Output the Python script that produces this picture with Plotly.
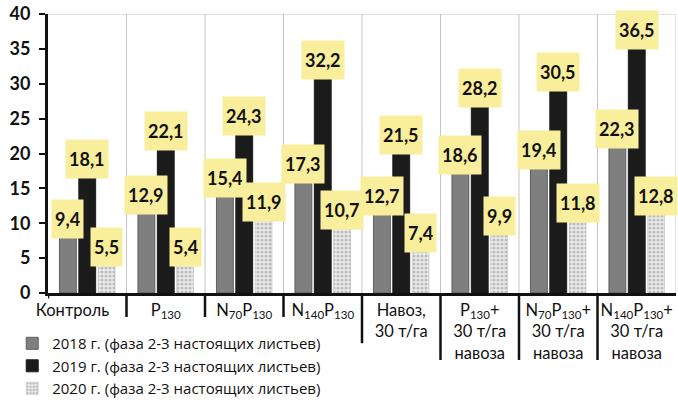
import plotly.graph_objects as go

# Treatments (category axis) and tick texts
categories = ["Контроль", "P130", "N70P130", "N140P130", "Навоз, 30 т/га",
              "P130+ 30 т/га навоза", "N70P130+ 30 т/га навоза", "N140P130+ 30 т/га навоза"]
tick_labels = [
    "Контроль" + "\u00a0" * 7,
    "P<sub>130</sub>",
    "N<sub>70</sub>P<sub>130</sub>",
    "N<sub>140</sub>P<sub>130</sub>",
    "Навоз,<br>30 т/га",
    "P<sub>130</sub>+<br>30 т/га<br>навоза",
    "N<sub>70</sub>P<sub>130</sub>+<br>30 т/га<br>навоза",
    "N<sub>140</sub>P<sub>130</sub>+<br>30 т/га<br>навоза",
]

series_names = [
    "2018 г. (фаза 2-3 настоящих листьев)",
    "2019 г. (фаза 2-3 настоящих листьев)",
    "2020 г. (фаза 2-3 настоящих листьев)",
]
values_2018 = [9.4, 12.9, 15.4, 17.3, 12.7, 18.6, 19.4, 22.3]
values_2019 = [18.1, 22.1, 24.3, 32.2, 21.5, 28.2, 30.5, 36.5]
values_2020 = [5.5, 5.4, 11.9, 10.7, 7.4, 9.9, 11.8, 12.8]
y_ticks = [0, 5, 10, 15, 20, 25, 30, 35, 40]

FONT = "Lato"
BAR_GAP = 0.26
GROUP_GAP = 0.13
x_pos = list(range(len(categories)))

fig = go.Figure()
fig.add_trace(go.Bar(
    x=x_pos, y=values_2018, name=series_names[0],
    marker=dict(color="#7f7f7f", line=dict(color="#5f5f5f", width=1)),
))
fig.add_trace(go.Bar(
    x=x_pos, y=values_2019, name=series_names[1],
    marker=dict(color="#1b1b1b", line=dict(color="#1b1b1b", width=1)),
))
fig.add_trace(go.Bar(
    x=x_pos, y=values_2020, name=series_names[2],
    marker=dict(color="#e6e6e6", line=dict(color="#b5b5b5", width=0.5),
                pattern=dict(shape=".", fgcolor="#8c8c8c", bgcolor="#ececec",
                             size=4, solidity=0.5)),
))

# Value labels on yellow boxes, centred over each bar of the group
slot = (1 - BAR_GAP) / 3
annotations = []
for k, series in enumerate([values_2018, values_2019, values_2020]):
    for i, v in enumerate(series):
        annotations.append(dict(
            x=i + (k - 1) * slot, y=v, xref="x", yref="y",
            text="<b>" + f"{v:.1f}".replace(".", ",") + "</b>",
            showarrow=False, yanchor="middle", yshift=8,
            bgcolor="#f8ee9c", borderpad=3, height=32,
            font=dict(family=FONT, size=18, color="#111111"),
        ))

shapes = []
# light vertical separators between treatments and the top frame line
for i in range(len(categories)):
    shapes.append(dict(type="line", xref="x", yref="y", x0=i + 0.5, x1=i + 0.5,
                       y0=0, y1=40, line=dict(color="#c4c4c4", width=1), layer="below"))
shapes.append(dict(type="line", xref="paper", yref="y", x0=0, x1=1, y0=40, y1=40,
                   line=dict(color="#c4c4c4", width=1), layer="below"))
# black category dividers below the axis
divider_len = [0.086, 0.086, 0.086, 0.18, 0.24, 0.24, 0.24]
for i, d in enumerate(divider_len):
    shapes.append(dict(type="line", xref="x", yref="paper", x0=i + 0.5, x1=i + 0.5,
                       y0=0, y1=-d, line=dict(color="#111111", width=2.5)))
shapes.append(dict(type="line", xref="x", yref="paper", x0=-0.5, x1=-0.5,
                   y0=0, y1=-0.02, line=dict(color="#111111", width=2.5)))

fig.update_layout(
    width=678, height=400,
    margin=dict(l=48, r=2, t=14, b=107, autoexpand=False),
    paper_bgcolor="white", plot_bgcolor="white",
    barmode="group", bargap=BAR_GAP, bargroupgap=GROUP_GAP,
    font=dict(family=FONT, color="#111111"),
    annotations=annotations, shapes=shapes,
    showlegend=True,
    legend=dict(x=-0.057, xanchor="left", y=-0.122, yanchor="top",
                font=dict(family="Open Sans", size=15, color="#111111"),
                bgcolor="rgba(0,0,0,0)", traceorder="normal"),
    xaxis=dict(range=[-0.5, 7.5], tickmode="array", tickvals=x_pos, ticktext=tick_labels,
               showgrid=False, zeroline=False, showline=True, linecolor="#111111",
               linewidth=3, ticks="", ticklabelstandoff=0,
               tickfont=dict(family=FONT, size=16.5, color="#111111")),
    yaxis=dict(range=[0, 40], tickmode="array", tickvals=y_ticks,
               showgrid=False, zeroline=False, showline=True, linecolor="#111111",
               linewidth=3, ticks="outside", ticklen=6, tickwidth=2, tickcolor="#111111",
               ticklabelstandoff=5,
               tickfont=dict(family=FONT, size=18, color="#111111", weight="bold")),
)

fig.write_html("out.html")
